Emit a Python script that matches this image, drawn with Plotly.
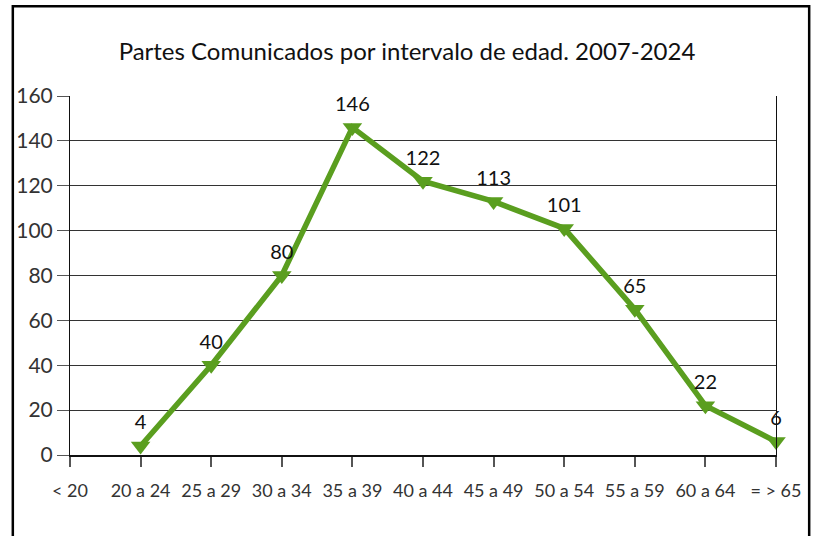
import plotly.graph_objects as go

# datos
intervalos = ["< 20", "20 a 24", "25 a 29", "30 a 34", "35 a 39", "40 a 44",
              "45 a 49", "50 a 54", "55 a 59", "60 a 64", "= > 65"]
partes = [None, 4, 40, 80, 146, 122, 113, 101, 65, 22, 6]
y_ticks = [0, 20, 40, 60, 80, 100, 120, 140, 160]

pos = list(range(len(intervalos)))
verde = "#5a9e1f"
fuente = "Lato, Roboto, sans-serif"

fig = go.Figure()
fig.add_trace(go.Scatter(
    x=pos,
    y=partes,
    mode="lines+markers+text",
    line=dict(color=verde, width=5.5),
    marker=dict(symbol="triangle-down", size=17, color=verde),
    text=[("" if v is None else str(v)) for v in partes],
    textposition="top center",
    textfont=dict(family=fuente, size=20, color="#111111"),
    cliponaxis=False,
    showlegend=False,
))

fig.update_layout(
    width=814, height=536,
    margin=dict(l=70, r=38, t=96, b=81),
    paper_bgcolor="white",
    plot_bgcolor="white",
    title=dict(text="Partes Comunicados por intervalo de edad. 2007-2024",
               x=0.5, xanchor="center", y=0.903, yanchor="middle",
               font=dict(family=fuente, size=24, color="#111111")),
    font=dict(family=fuente, color="#333333"),
)

fig.update_xaxes(
    range=[0, 10],
    tickvals=pos,
    ticktext=intervalos,
    showgrid=False,
    zeroline=False,
    showline=True, linecolor="#111111", linewidth=2,
    ticks="outside", ticklen=10, tickcolor="#555555", tickwidth=2,
    tickfont=dict(family=fuente, size=18, color="#333333"),
    ticklabelstandoff=8,
)
fig.update_yaxes(
    range=[0, 160],
    tickvals=y_ticks,
    showgrid=True, gridcolor="#333333", gridwidth=1,
    zeroline=False,
    showline=True, linecolor="#111111", linewidth=1, mirror=True,
    ticks="outside", ticklen=12, tickcolor="#555555",
    tickfont=dict(family=fuente, size=21, color="#333333"),
)

# marco exterior del grafico
fig.add_shape(type="rect", xref="paper", yref="paper",
              x0=-0.081, x1=1.047, y0=-0.4, y1=1.25,
              line=dict(color="black", width=2.5), layer="below")

fig.write_html("out.html", config={"displayModeBar": False},
               post_script="document.body.style.margin='0px';")
